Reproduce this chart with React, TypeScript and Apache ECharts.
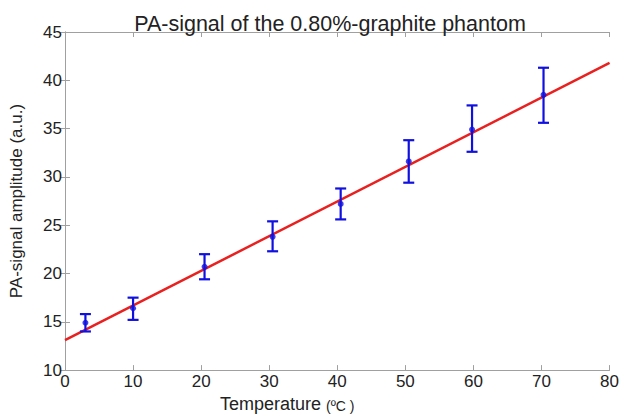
import React, { useEffect, useRef } from "react";
import * as echarts from "echarts";

const temps = [3, 10, 20.5, 30.5, 40.5, 50.5, 59.8, 70.3];
const means = [14.9, 16.4, 20.7, 23.8, 27.2, 31.6, 34.9, 38.5];
const lows = [14.0, 15.2, 19.4, 22.3, 25.6, 29.4, 32.6, 35.6];
const highs = [15.8, 17.5, 22.0, 25.4, 28.8, 33.8, 37.4, 41.3];
const fitX = [0, 80];
const fitY = [13.1, 41.8];
const yTicks = [10, 15, 20, 25, 30, 35, 40, 45];
const xTicks = [0, 10, 20, 30, 40, 50, 60, 70, 80];

export default function App() {
  const ref = useRef<HTMLDivElement>(null);
  useEffect(() => {
    if (!ref.current) return;
    const chart = echarts.init(ref.current, null, { renderer: "svg" });
    const font = "Liberation Sans, Arial, sans-serif";
    const axisCol = "#a0a0a0";
    const txt = "#222";
    const baseAxis = {
      axisLine: { show: true, lineStyle: { color: axisCol, width: 1 } },
      axisTick: { show: true, inside: true, length: 5, lineStyle: { color: axisCol } },
      splitLine: { show: false },
    };
    chart.setOption({
      animation: false,
      backgroundColor: "#ffffff",
      title: {
        text: "PA-signal of the 0.80%-graphite phantom",
        left: 325,
        textAlign: "center",
        top: 8,
        textStyle: { fontFamily: font, fontSize: 21.5, fontWeight: "normal", color: txt },
      },
      grid: { left: 65, right: 9, top: 32, bottom: 36 },
      xAxis: [
        {
          ...baseAxis,
          type: "value",
          min: xTicks[0],
          max: xTicks[xTicks.length - 1],
          interval: 10,
          position: "bottom",
          name: "{a|Temperature }{b|(ºC )}",
          nameLocation: "middle",
          nameGap: 18,
          nameTextStyle: {
            padding: [0, 100, 0, 0],
            rich: {
              a: { fontFamily: font, fontSize: 18, color: txt },
              b: { fontFamily: font, fontSize: 14, color: txt, padding: [4, 0, 0, 0] },
            },
          },
          axisLabel: { fontFamily: font, fontSize: 17, color: txt, margin: 3 },
        },
        {
          ...baseAxis,
          type: "value",
          min: xTicks[0],
          max: xTicks[xTicks.length - 1],
          interval: 10,
          position: "top",
          axisLabel: { show: false },
        },
      ],
      yAxis: [
        {
          ...baseAxis,
          type: "value",
          min: yTicks[0],
          max: yTicks[yTicks.length - 1],
          interval: 5,
          position: "left",
          name: "PA-signal amplitude (a.u.)",
          nameLocation: "middle",
          nameGap: 40,
          nameTextStyle: { fontFamily: font, fontSize: 17, color: txt },
          axisLabel: { fontFamily: font, fontSize: 17, color: txt, margin: 3 },
        },
        {
          ...baseAxis,
          type: "value",
          min: yTicks[0],
          max: yTicks[yTicks.length - 1],
          interval: 5,
          position: "right",
          axisLabel: { show: false },
        },
      ],
      series: [
        {
          type: "line",
          data: fitX.map((x, i) => [x, fitY[i]]),
          showSymbol: false,
          lineStyle: { color: "#e8201f", width: 2.5 },
          z: 2,
        },
        {
          type: "custom",
          data: temps.map((t, i) => [t, lows[i], highs[i]]),
          renderItem: (params: any, api: any) => {
            const x = api.value(0);
            const lo = api.coord([x, api.value(1)]);
            const hi = api.coord([x, api.value(2)]);
            const cap = 5.5;
            const style = { stroke: "#1010e0", lineWidth: 2.2 };
            return {
              type: "group",
              children: [
                { type: "line", shape: { x1: lo[0], y1: lo[1], x2: hi[0], y2: hi[1] }, style },
                { type: "line", shape: { x1: lo[0] - cap, y1: lo[1], x2: lo[0] + cap, y2: lo[1] }, style },
                { type: "line", shape: { x1: hi[0] - cap, y1: hi[1], x2: hi[0] + cap, y2: hi[1] }, style },
              ],
            };
          },
          z: 3,
        },
        {
          type: "scatter",
          data: temps.map((t, i) => [t, means[i]]),
          symbol: "circle",
          symbolSize: 6,
          itemStyle: { color: "#1010e0" },
          z: 4,
        },
      ],
    });
    return () => chart.dispose();
  }, []);
  return <div ref={ref} style={{ width: 622, height: 418, position: "absolute", left: 0, top: 0 }} />;
}
